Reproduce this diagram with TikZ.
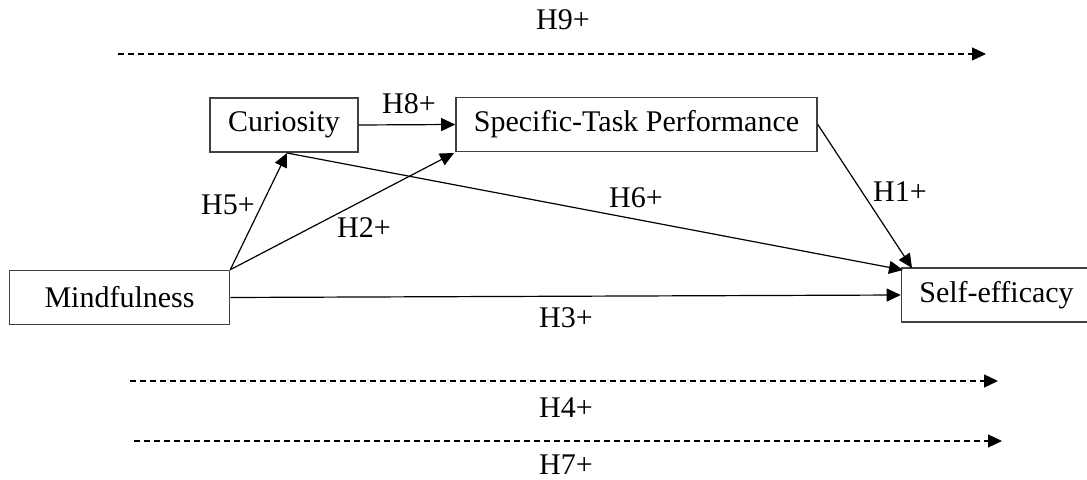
\documentclass[tikz,border=0pt]{standalone}
\usepackage{fontspec}
\setmainfont{Liberation Serif}
\usetikzlibrary{arrows.meta}
\tikzset{box/.style = {draw=black!75, line width=0.8pt, minimum height=27, inner sep=0pt},
  hyp/.style = {-{Triangle[length=7pt,width=6.5pt]}, line width=0.6pt},
  hypdash/.style = {hyp, dash pattern=on 3pt off 2pt}}

\begin{document}
\begin{tikzpicture}[x=0.5pt,y=-0.5pt,font=\fontsize{15}{18}\selectfont]
  \useasboundingbox (0,0) rectangle (1087,480);

  \node[box, minimum width=110] (mind) at (119.5,297.5) {Mindfulness};
  \node[box, minimum width=74] (curio) at (284,125) {Curiosity};
  \node[box, minimum width=180.5] (task) at (636.5,124.5) {Specific-Task Performance};
  \node[box, minimum width=95] (self) at (996.5,295) {Self-efficacy};

  \coordinate (curioin) at (287,153);
  \coordinate (taskin) at (454,153);
  \coordinate (selftop) at (912,268);
  \coordinate (selfcorner) at (903,270);

  \draw[hyp] (curio.east) -- (task.west);
  \draw[hyp] (mind.north east) -- (curioin);
  \draw[hyp] (mind.north east) -- (taskin);
  \draw[hyp] (curioin) -- (selfcorner);
  \draw[hyp] (task.east) -- (selftop);
  \draw[hyp] (mind.east) -- (self.west);

  % mediated paths
  \coordinate (h9a) at (118,54);  \coordinate (h9b) at (986,54);
  \coordinate (h4a) at (130,381); \coordinate (h4b) at (998,381);
  \coordinate (h7a) at (134,441); \coordinate (h7b) at (1002,441);
  \draw[hypdash] (h9a) -- (h9b);
  \draw[hypdash] (h4a) -- (h4b);
  \draw[hypdash] (h7a) -- (h7b);

  \node (lH9) at (563,20) {H9+};
  \node (lH8) at (409,104) {H8+};
  \node (lH5) at (228,205) {H5+};
  \node (lH2) at (364,228) {H2+};
  \node (lH6) at (636,198) {H6+};
  \node (lH1) at (900,192) {H1+};
  \node (lH3) at (566,318) {H3+};
  \node (lH4) at (566,408) {H4+};
  \node (lH7) at (566,465) {H7+};
\end{tikzpicture}
\end{document}
